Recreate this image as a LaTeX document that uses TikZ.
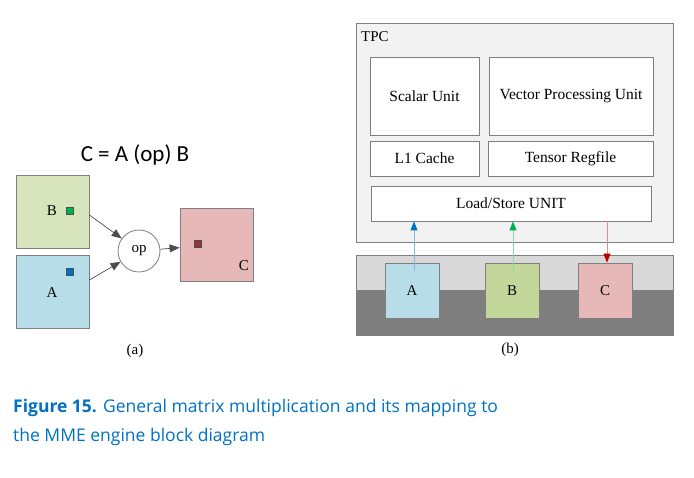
\documentclass[tikz,border=0pt]{standalone}
\usepackage{fontspec}
\setmainfont{Liberation Serif}
\newfontfamily\formfont{Carlito}
\newfontfamily\capfont{Open Sans}
\usepackage{xcolor}
\usepackage{tikz}
\usetikzlibrary{arrows.meta, positioning}
\definecolor{afill}{HTML}{B7DEE8}
\definecolor{bfilla}{HTML}{D8E4BC}
\definecolor{bfillb}{HTML}{C4D79B}
\definecolor{cfill}{HTML}{E6B8B7}
\definecolor{boxdraw}{HTML}{7F7F7F}
\definecolor{tpcfill}{HTML}{F2F2F2}
\definecolor{memtop}{HTML}{D9D9D9}
\definecolor{membot}{HTML}{7F7F7F}
\definecolor{adot}{HTML}{0070C0}
\definecolor{bdot}{HTML}{00B050}
\definecolor{cdot}{HTML}{943634}
\definecolor{aline}{HTML}{8DB4E2}
\definecolor{bline}{HTML}{8FD6AE}
\definecolor{cline}{HTML}{E88A8A}
\definecolor{chead}{HTML}{C00000}
\definecolor{capblue}{HTML}{0071C5}
\tikzset{
  mat/.style={rectangle, draw=boxdraw, line width=0.8pt, minimum width=73pt, minimum height=73pt, inner sep=0pt},
  tile/.style={rectangle, draw=boxdraw, line width=0.8pt, minimum width=54pt, minimum height=55pt, inner sep=0pt, font=\fontsize{15}{17}\selectfont},
  unit/.style={rectangle, draw=boxdraw, fill=white, line width=0.8pt, inner sep=0pt, font=\fontsize{15.5}{18}\selectfont},
  dot/.style={rectangle, draw=black!70, line width=0.4pt, minimum size=7pt, inner sep=0pt},
  lbl/.style={font=\fontsize{15}{17}\selectfont, inner sep=0pt},
  opnode/.style={circle, draw=boxdraw, line width=0.8pt, minimum size=42pt, inner sep=0pt, font=\fontsize{15}{17}\selectfont},
  arr/.style={-{Triangle[length=10pt, width=8pt]}, line width=0.6pt, draw=black!70, fill=black},
  ldst/.style={line width=0.8pt},
}
\begin{document}
\begin{tikzpicture}[x=1pt, y=-1pt]
  \useasboundingbox (0,0) rectangle (694,478);
  % (a) the operation
  \node[font=\formfont\fontsize{23}{26}\selectfont] (formula) at (135,155) {C = A (op) B};
  \node[mat, fill=bfilla] (matB) at (52.5,211.5) {};
  \node[mat, fill=afill] (matA) at (52.5,291.5) {};
  \node[mat, fill=cfill] (matC) at (216.5,244.5) {};
  \node[opnode] (op) at (139,251) {op};
  \node[dot, fill=bdot] (dotB) at (70,211) {};
  \node[dot, fill=adot] (dotA) at (70,272) {};
  \node[dot, fill=cdot] (dotC) at (198,244) {};
  \node[lbl] (labB) at (52,211) {B};
  \node[lbl] (labA) at (52,293) {A};
  \node[lbl] (labC) at (244,266) {C};
  \draw[arr] (matB.east |- 0,215) -- (op);
  \draw[arr] (matA.east |- 0,280) -- (op);
  \draw[arr] (op) -- (matC);
  \node[lbl] (capa) at (135,351) {(a)};
  % (b) the TPC
  \node[rectangle, draw=boxdraw, fill=tpcfill, line width=0.8pt, minimum width=317pt, minimum height=219pt, inner sep=0pt] (tpc) at (514.5,132.5) {};
  \node[lbl, anchor=west] (tpclab) at (361,37) {TPC};
  \node[unit, minimum width=109pt, minimum height=78pt] (scalar) at (424.5,96) {Scalar Unit};
  \node[unit, minimum width=164pt, minimum height=78pt] (vector) at (571,96) {Vector Processing Unit};
  \node[unit, minimum width=109pt, minimum height=35pt] (l1) at (424.5,158.5) {L1 Cache};
  \node[unit, minimum width=165pt, minimum height=35pt] (regfile) at (570.5,158.5) {Tensor Regfile};
  \node[unit, minimum width=280pt, minimum height=35pt] (lsu) at (511,203.5) {Load/Store UNIT};
  % memory
  \fill[memtop] (356,255) rectangle (673,290);
  \fill[membot] (356,290) rectangle (673,335);
  \draw[boxdraw, line width=0.8pt] (356,255) rectangle (673,335);
  \node[tile, fill=afill] (tileA) at (412,290.5) {A};
  \node[tile, fill=bfillb] (tileB) at (512,290.5) {B};
  \node[tile, fill=cfill] (tileC) at (605,290.5) {C};
  \coordinate (srcA) at (414,271);
  \coordinate (srcB) at (513,271);
  \draw[ldst, aline, -{Triangle[length=9pt, width=7pt, color=adot]}] (srcA) -- (srcA |- lsu.south);
  \draw[ldst, bline, -{Triangle[length=9pt, width=7pt, color=bdot]}] (srcB) -- (srcB |- lsu.south);
  \draw[ldst, cline, -{Triangle[length=9pt, width=7pt, color=chead]}] (lsu.south -| 607,0) -- (tileC.north -| 607,0);
  \node[lbl] (capb) at (510,350) {(b)};
  % caption
  \node[anchor=base west, inner sep=0pt, text=capblue, font=\capfont\fontsize{17.5}{29.5}\selectfont, align=left] (caption) at (13,442)
    {\textbf{Figure 15.} General matrix multiplication and its mapping to\\the MME engine block diagram};
\end{tikzpicture}
\end{document}
